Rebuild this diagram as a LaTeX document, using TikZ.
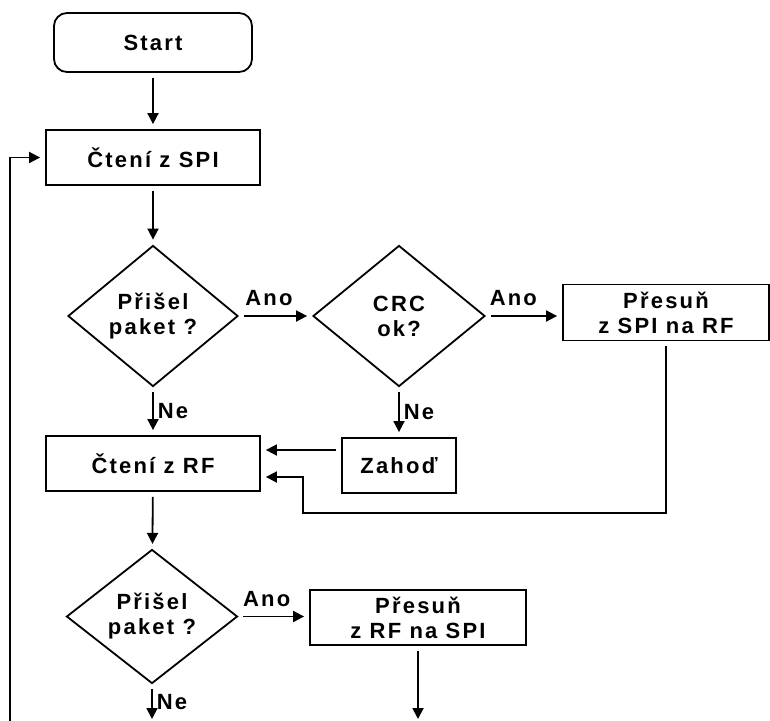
\documentclass[tikz,border=0pt]{standalone}
\usepackage{fontspec}
\setmainfont{Liberation Sans}[LetterSpace=10]
\usetikzlibrary{shapes.geometric, arrows.meta}

\tikzset{
  txt/.style={font=\bfseries\fontsize{22}{25}\selectfont},
  startbox/.style={txt, draw, line width=1.8pt, rounded corners=13pt, inner sep=0pt, align=center},
  procbox/.style={txt, draw, line width=1.8pt, inner sep=0pt, align=center},
  decision/.style={txt, draw, line width=1.8pt, shape=diamond, inner sep=0pt, align=center},
  arr/.style={line width=1.8pt, -{Triangle[length=11pt,width=11pt]}, shorten >=5pt, shorten <=5pt},
  lab/.style={txt, inner sep=1pt}
}

\begin{document}
\begin{tikzpicture}[x=1pt, y=-1pt]
  \fill[white] (0,0) rectangle (770,720);
  \useasboundingbox (0,0) rectangle (770,720);

  % process steps
  \node[startbox, minimum width=198pt, minimum height=59pt] (start) at (153,42.5) {Start};
  \node[procbox, minimum width=214pt, minimum height=55pt] (spi) at (153,157.5) {Čtení z SPI};
  \node[decision, minimum width=170pt, minimum height=141pt] (d1) at (153,316) {Přišel\\paket ?};
  \node[decision, minimum width=172pt, minimum height=141pt] (d2) at (399,316) {CRC\\ok?};
  \node[procbox, minimum width=206pt, minimum height=56pt] (mv1) at (666,312.5) {Přesuň\\z SPI na RF};
  \node[procbox, minimum width=114pt, minimum height=55pt] (zah) at (399,465.5) {Zahoď};
  \node[procbox, minimum width=214pt, minimum height=55pt] (rf) at (153,463.5) {Čtení z RF};
  \node[decision, minimum width=171pt, minimum height=133pt] (d3) at (152,616.5) {Přišel\\paket ?};
  \node[procbox, minimum width=216pt, minimum height=55pt] (mv2) at (418,617.5) {Přesuň\\z RF na SPI};

  % loose ends
  \coordinate (loopfoot) at (10,722);
  \coordinate (retcorner) at (303,513);
  \coordinate (exitne) at (152,719);
  \coordinate (exitmv) at (418,719);

  % connectors
  \draw[arr] (start) -- (spi);
  \draw[arr] (spi) -- (d1);
  \draw[arr] (d1.east) -- node[lab, above=8pt, pos=0.41] {Ano} (d2.west);
  \draw[arr] (d2.east) -- node[lab, above=8pt, pos=0.36] {Ano} (d2.east -| mv1.west);
  \draw[arr] (d1.south) -- node[lab, right=3pt] {Ne} (d1.south |- rf.north);
  \draw[arr] (d2.south) -- node[lab, right=3pt] {Ne} (zah.north);
  \draw[arr] ([yshift=15.5pt]zah.west) -- ([yshift=13.5pt]rf.east);
  \draw[arr] (mv1.south) |- (retcorner) |- ([yshift=-13.5pt]rf.east);
  \draw[arr] (rf) -- (d3);
  \draw[arr] (d3.east) -- node[lab, above=8pt, pos=0.4] {Ano} (d3.east -| mv2.west);
  \draw[arr, shorten >=0pt] (d3.south) -- node[lab, right=3pt] {Ne} (exitne);
  \draw[arr, shorten >=0pt] (mv2.south) -- (exitmv);
  \draw[arr, shorten <=0pt] (loopfoot) |- (spi.west);
\end{tikzpicture}
\end{document}
